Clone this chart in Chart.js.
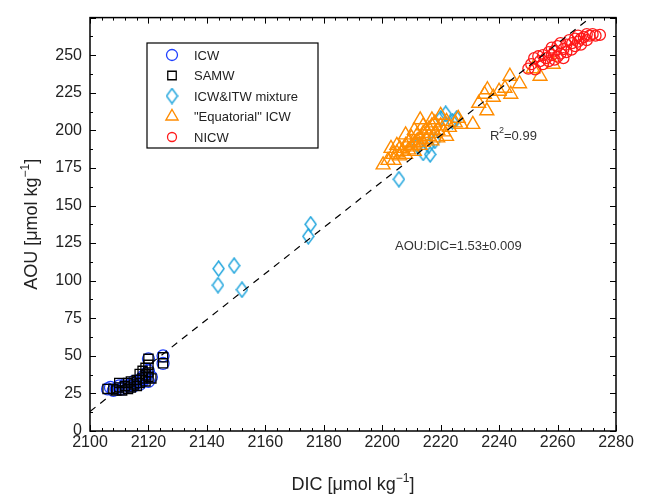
<!DOCTYPE html>
<html>
<head>
<meta charset="utf-8">
<script src="https://cdn.jsdelivr.net/npm/chart.js@4.4.0/dist/chart.umd.min.js"></script>
<style>
  html, body { margin: 0; padding: 0; background: #fff; }
</style>
</head>
<body>
<canvas id="chart" width="645" height="495"></canvas>
<script>
// data: [DIC, AOU]
const icw = [
  [2106, 28], [2107, 29], [2108, 27], [2109, 28], [2110, 30], [2111, 28], [2112, 29], [2112, 31],
  [2113, 30], [2114, 31], [2115, 30], [2115, 33], [2116, 32], [2117, 34], [2117, 31], [2118, 36],
  [2118, 33], [2119, 38], [2119, 35], [2120, 40], [2120, 33], [2121, 36], [2120, 48], [2125, 50], [2125, 45]
];
const samw = [
  [2106, 28], [2108, 28], [2109, 27], [2110, 29], [2110, 32], [2111, 27], [2112, 30], [2113, 28],
  [2113, 32], [2114, 29], [2114, 33], [2115, 31], [2116, 30], [2116, 34], [2117, 32], [2117, 38],
  [2118, 35], [2118, 40], [2119, 37], [2119, 42], [2119, 33], [2120, 36], [2120, 39], [2120, 44],
  [2120, 48], [2121, 35], [2125, 49], [2125, 45]
];
const mixture = [
  [2144, 108], [2149.3, 110], [2143.8, 97], [2152, 94], [2175.5, 137.5], [2174.7, 129.5],
  [2205.7, 167.5], [2214, 185], [2216, 190], [2218, 193], [2220, 208], [2221.7, 211],
  [2224, 206], [2225.5, 208], [2212, 190], [2216.4, 184]
];
const equatorial = [
  [2200.3, 177], [2202, 180], [2203, 188], [2203.7, 184], [2204, 180], [2205, 185], [2205, 190],
  [2206, 183], [2206, 188], [2207, 186], [2208, 190], [2208, 184], [2208, 197], [2209, 192],
  [2209, 187], [2210, 189], [2210, 195], [2211, 191], [2211, 186], [2211, 200], [2212, 193],
  [2212, 197], [2213, 190], [2213, 207], [2213, 195], [2214, 192], [2214, 198], [2214, 203],
  [2215, 194], [2215, 200], [2216, 196], [2216, 201], [2217, 207], [2217, 193], [2217, 203],
  [2218, 198], [2218, 205], [2219, 200], [2219, 195], [2220, 203], [2220, 210], [2221, 199],
  [2222, 206], [2222, 196], [2223, 202], [2225, 205], [2226, 208], [2227, 204], [2231, 204],
  [2233, 218], [2235, 224], [2235.8, 213], [2236, 227], [2238, 222], [2240, 226], [2242, 228],
  [2243.7, 236], [2244, 224], [2247, 231], [2251.6, 241], [2254, 236], [2258.5, 244]
];
const nicw = [
  [2250, 241], [2251, 244], [2252, 248], [2252.3, 240.6], [2253.4, 249.3], [2254, 246], [2255, 250],
  [2255, 244], [2256, 248], [2257, 252], [2257, 246], [2258, 250], [2258, 255], [2259, 247],
  [2259, 253], [2260, 249], [2260, 256], [2261, 251], [2261, 258], [2262, 254], [2262, 248],
  [2263, 257], [2263, 252], [2264, 260], [2264.8, 253.7], [2265, 258], [2266, 261], [2266, 256],
  [2267, 259], [2267, 263], [2268, 261], [2268, 257], [2269, 262], [2270, 264], [2270, 260],
  [2271, 263], [2272, 264], [2273, 263], [2274.5, 263.5]
];
// regression line AOU = a + slope * (DIC - 2100)
const fitIntercept = 13;
const fitSlope = 1.53;
const xTicks = [2100, 2120, 2140, 2160, 2180, 2200, 2220, 2240, 2260, 2280];
const yTicks = [0, 25, 50, 75, 100, 125, 150, 175, 200, 225, 250];
const xMin = 2100, xMax = 2280, yMin = 0, yMax = 275;

const pts = arr => arr.map(p => ({ x: p[0], y: p[1] }));
const FONT = '"Liberation Sans", Arial, sans-serif';

// tall diamond marker like the original
function diamondCanvas(color) {
  const c = document.createElement('canvas');
  c.width = 13; c.height = 17;
  const g = c.getContext('2d');
  g.strokeStyle = color;
  g.lineWidth = 1.4;
  g.beginPath();
  g.moveTo(6.5, 1); g.lineTo(12, 8.5); g.lineTo(6.5, 16); g.lineTo(1, 8.5); g.closePath();
  g.stroke();
  return c;
}
const diamond = diamondCanvas('#1ba3dc');

const fitLine = [
  { x: xMin, y: fitIntercept },
  { x: xMin + (yMax - fitIntercept) / fitSlope, y: yMax }
];

// axis title with a superscript "-1", centred on (0,0) of current transform
function unitTitle(ctx, head) {
  const big = '18px ' + FONT, small = '12px ' + FONT;
  ctx.font = big;
  const w1 = ctx.measureText(head).width;
  const w3 = ctx.measureText(']').width;
  ctx.font = small;
  const w2 = ctx.measureText('\u22121').width;
  let x = -(w1 + w2 + w3) / 2;
  ctx.font = big; ctx.fillText(head, x, 0); x += w1;
  ctx.font = small; ctx.fillText('\u22121', x, -8); x += w2;
  ctx.font = big; ctx.fillText(']', x, 0);
}

// box, inward ticks, legend, titles and annotations
const decor = {
  id: 'decor',
  afterDatasetsDraw(chart) {
    const { ctx, chartArea: a, scales: { x, y } } = chart;
    ctx.save();
    ctx.strokeStyle = '#000';
    ctx.lineWidth = 1.5;
    ctx.strokeRect(a.left, a.top, a.right - a.left, a.bottom - a.top);
    ctx.lineWidth = 1;
    ctx.beginPath();
    for (let v = xMin; v <= xMax; v += 4) {
      const px = Math.round(x.getPixelForValue(v)) + 0.5;
      const len = (v - xMin) % 20 === 0 ? 6 : 3;
      ctx.moveTo(px, a.bottom); ctx.lineTo(px, a.bottom - len);
      ctx.moveTo(px, a.top); ctx.lineTo(px, a.top + len);
    }
    for (let v = yMin; v <= yMax; v += 12.5) {
      const py = Math.round(y.getPixelForValue(v)) + 0.5;
      const len = v % 25 === 0 ? 6 : 3;
      ctx.moveTo(a.left, py); ctx.lineTo(a.left + len, py);
      ctx.moveTo(a.right, py); ctx.lineTo(a.right - len, py);
    }
    ctx.stroke();

    // legend
    ctx.fillStyle = '#fff';
    ctx.fillRect(147, 43, 171, 105);
    ctx.strokeStyle = '#000';
    ctx.lineWidth = 1.2;
    ctx.strokeRect(147, 43, 171, 105);
    const rows = [55, 75.5, 96, 116.5, 137];
    ctx.font = '13px ' + FONT;
    ctx.textBaseline = 'middle';
    [0, 1, 2, 3, 4].forEach((di, i) => {
      const ds = chart.data.datasets[di];
      const opts = { pointStyle: ds.pointStyle, radius: ds.legendRadius, rotation: 0, borderWidth: ds.borderWidth };
      ctx.strokeStyle = ds.borderColor;
      ctx.lineWidth = ds.borderWidth;
      ctx.fillStyle = 'rgba(0,0,0,0)';
      Chart.helpers.drawPoint(ctx, opts, 172, rows[i]);
      ctx.fillStyle = '#222';
      ctx.fillText(ds.label, 194, rows[i] + 1);
    });

    // annotations
    ctx.fillStyle = '#333';
    ctx.textBaseline = 'alphabetic';
    ctx.font = '13px ' + FONT;
    ctx.fillText('R', 490, 140);
    ctx.font = '9px ' + FONT;
    ctx.fillText('2', 499, 133);
    ctx.font = '13px ' + FONT;
    ctx.fillText('=0.99', 504, 140);
    ctx.fillText('AOU:DIC=1.53\u00B10.009', 395, 250);

    // axis titles
    ctx.fillStyle = '#222';
    ctx.save();
    ctx.translate((a.left + a.right) / 2, 490);
    unitTitle(ctx, 'DIC [\u03BCmol kg');
    ctx.restore();
    ctx.save();
    ctx.translate(37, (a.top + a.bottom) / 2);
    ctx.rotate(-Math.PI / 2);
    unitTitle(ctx, 'AOU [\u03BCmol kg');
    ctx.restore();
    ctx.restore();
  }
};

const axisFont = { family: FONT, size: 16 };

new Chart(document.getElementById('chart'), {
  type: 'scatter',
  data: {
    datasets: [
      {
        label: 'ICW', data: pts(icw), pointStyle: 'circle', pointRadius: 6, legendRadius: 5.5,
        borderColor: '#2040ff', backgroundColor: 'rgba(0,0,0,0)', borderWidth: 1.3, order: 5
      },
      {
        label: 'SAMW', data: pts(samw), pointStyle: 'rect', pointRadius: 6.5, legendRadius: 6,
        borderColor: '#000', backgroundColor: 'rgba(0,0,0,0)', borderWidth: 1.3, order: 4
      },
      {
        label: 'ICW&ITW mixture', data: pts(mixture), pointStyle: diamond, pointRadius: 6, legendRadius: 6,
        borderColor: '#1ba3dc', backgroundColor: 'rgba(0,0,0,0)', borderWidth: 1.4, order: 3
      },
      {
        label: '"Equatorial" ICW', data: pts(equatorial), pointStyle: 'triangle', pointRadius: 8, legendRadius: 7,
        borderColor: '#ff8c00', backgroundColor: 'rgba(0,0,0,0)', borderWidth: 1.4, order: 2
      },
      {
        label: 'NICW', data: pts(nicw), pointStyle: 'circle', pointRadius: 5.5, legendRadius: 4.5,
        borderColor: '#ff1a1a', backgroundColor: 'rgba(0,0,0,0)', borderWidth: 1.3, order: 1
      },
      {
        label: 'fit', type: 'line', data: fitLine, showLine: true, pointRadius: 0,
        borderColor: '#000', borderWidth: 1.2, borderDash: [7, 6], fill: false, order: 0
      }
    ]
  },
  options: {
    responsive: false,
    animation: false,
    layout: { padding: { top: 11, right: 29, left: 0, bottom: 0 } },
    plugins: { legend: { display: false }, tooltip: { enabled: false } },
    scales: {
      x: {
        type: 'linear', min: xMin, max: xMax,
        afterBuildTicks: s => { s.ticks = xTicks.map(v => ({ value: v })); },
        afterFit: s => { s.height = 64; },
        grid: { display: false, drawTicks: false },
        border: { display: false },
        ticks: { font: axisFont, color: '#222', padding: 2, maxRotation: 0, autoSkip: false, callback: v => String(v) }
      },
      y: {
        type: 'linear', min: yMin, max: yMax,
        afterBuildTicks: s => { s.ticks = yTicks.map(v => ({ value: v })); },
        afterFit: s => { s.width = 90; },
        grid: { display: false, drawTicks: false },
        border: { display: false },
        ticks: { font: axisFont, color: '#222', padding: 8, autoSkip: false, callback: v => String(v) }
      }
    }
  },
  plugins: [decor]
});
</script>
</body>
</html>
